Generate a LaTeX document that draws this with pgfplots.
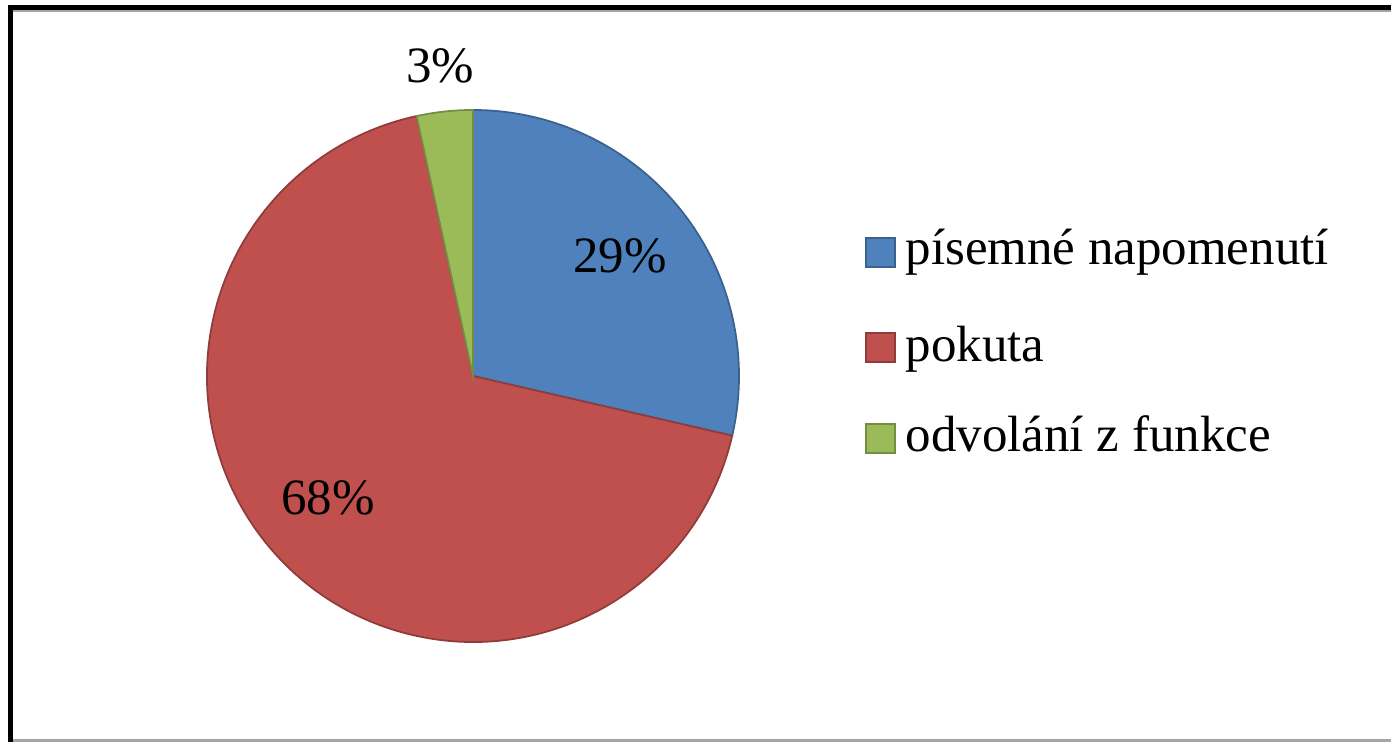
\documentclass[border=0pt]{standalone}
\usepackage{pgfplots}
\pgfplotsset{compat=1.18}
\usepackage{pgfplotstable}
\usepackage{fontspec}
\setmainfont{Liberation Serif}

\definecolor{sBlue}{HTML}{4F81BD}
\definecolor{sRed}{HTML}{C0504D}
\definecolor{sGreen}{HTML}{9BBB59}

% shares in percent, clockwise from 12 o'clock
\pgfplotstableread[col sep=comma]{
share,label
28.6,písemné napomenutí
68.0,pokuta
3.4,odvolání z funkce
}\piedata

\pgfplotstablegetelem{0}{share}\of\piedata \let\va\pgfplotsretval
\pgfplotstablegetelem{1}{share}\of\piedata \let\vb\pgfplotsretval
\pgfmathsetmacro\aA{90-3.6*\va}
\pgfmathsetmacro\aB{\aA-3.6*\vb}

\begin{document}
\begin{tikzpicture}[every node/.style={font=\fontsize{14.5}{17}\selectfont}]
\begin{axis}[
    name=ax,
    width=13.91cm, height=7.42cm, scale only axis,
    xmin=0, xmax=1391, ymin=0, ymax=742,
    hide axis, clip=false,
]
% frame
\draw[gray!70, line width=0.6pt] (axis cs:10,1.5) -- (axis cs:1391,1.5);
\draw[gray!70, line width=0.6pt] (axis cs:10,731) -- (axis cs:1391,731);
\draw[black, line width=1.5pt] (axis cs:10.5,0) -- (axis cs:10.5,734.5) -- (axis cs:1391,734.5);

% slices
\filldraw[fill=sBlue, draw=sBlue!75!black, line width=0.5pt]
  (axis cs:473,366) -- ++(90:2.66cm) arc[start angle=90, end angle=\aA, radius=2.66cm] -- cycle;
\filldraw[fill=sRed, draw=sRed!75!black, line width=0.5pt]
  (axis cs:473,366) -- ++(\aA:2.66cm) arc[start angle=\aA, end angle=\aB, radius=2.66cm] -- cycle;
\filldraw[fill=sGreen, draw=sGreen!75!black, line width=0.5pt]
  (axis cs:473,366) -- ++(\aB:2.66cm) arc[start angle=\aB, end angle=-270, radius=2.66cm] -- cycle;

% slice labels
\node[anchor=base] at (axis cs:620,469) {29\%};
\node[anchor=base] at (axis cs:328,227) {68\%};
\node[anchor=base] at (axis cs:440,659) {3\%};

% legend
\filldraw[fill=sBlue, draw=sBlue!75!black, line width=0.5pt] (axis cs:866,475) rectangle (axis cs:895,504);
\filldraw[fill=sRed, draw=sRed!75!black, line width=0.5pt] (axis cs:866,380) rectangle (axis cs:895,409);
\filldraw[fill=sGreen, draw=sGreen!75!black, line width=0.5pt] (axis cs:866,289) rectangle (axis cs:895,318);
\node[anchor=base west, inner sep=0pt] at (axis cs:905,477) {písemné napomenutí};
\node[anchor=base west, inner sep=0pt] at (axis cs:905,380) {pokuta};
\node[anchor=base west, inner sep=0pt] at (axis cs:905,290) {odvolání z funkce};
\end{axis}
\pgfresetboundingbox
\path[use as bounding box] (ax.south west) rectangle (ax.north east);
\end{tikzpicture}
\end{document}
